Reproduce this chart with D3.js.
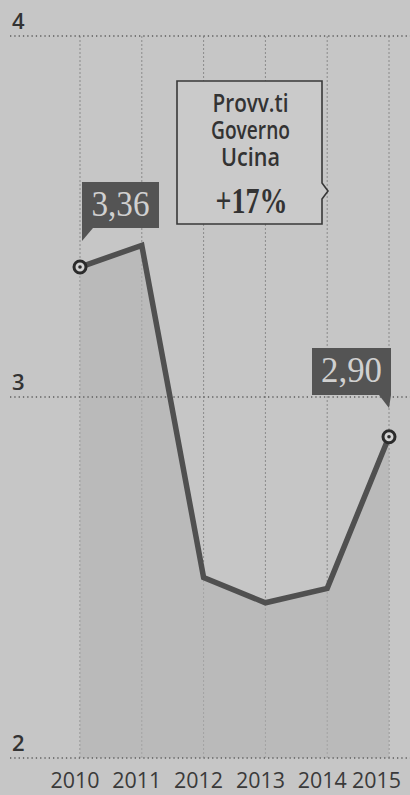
<!DOCTYPE html>
<html>
  <head>
    <meta charset="utf-8">
    <title>Provv.ti Governo Ucina</title>
    <script src="https://d3js.org/d3.v7.min.js"></script>
    <style>
      body { margin: 0; background: #c6c6c6; }
      svg { display: block; }
      .grid line { stroke: #5e5e5e; stroke-width: 1.3; stroke-dasharray: 1.3 3; }
      .vgrid line { stroke: #8a8a8a; stroke-width: 1; stroke-dasharray: 2 2; }
      .area { fill: #b3b3b3; opacity: 0.6; }
      .line { fill: none; stroke: #505050; stroke-width: 5.5; stroke-linejoin: miter; }
      .xlab { font-family: "Open Sans", "DejaVu Sans", sans-serif; font-size: 22px; fill: #3a3a3a; }
      .ylab { font-family: "Open Sans", sans-serif; font-weight: 600; font-size: 22px; fill: #333; }
    </style>
  </head>
  <body>
    <script>
      var years = [2010, 2011, 2012, 2013, 2014, 2015];
      var values = [3.36, 3.42, 2.50, 2.43, 2.47, 2.89];
      var yTicks = [2, 3, 4];
      var callouts = [{ year: 2010, text: '3,36' }, { year: 2015, text: '2,90' }];
      var noteLines = ['Provv.ti', 'Governo', 'Ucina'];
      var noteValue = '+17%';

      var W = 410, H = 795;
      var svg = d3.select('body').append('svg').attr('width', W).attr('height', H);

      svg.append('rect').attr('width', W).attr('height', H).attr('fill', '#c6c6c6');

      var x = d3.scalePoint().domain(years).range([80, 389]);
      var y = d3.scaleLinear().domain([2, 4]).range([758, 36]);

      // vertical dotted grid
      svg.append('g').attr('class', 'vgrid').selectAll('line').data(years).enter().append('line')
        .attr('x1', function(d){ return x(d) }).attr('x2', function(d){ return x(d) })
        .attr('y1', y(4)).attr('y2', y(2));

      // area under the line
      var area = d3.area()
        .x(function(d, i){ return x(years[i]) })
        .y0(y(2))
        .y1(function(d){ return y(d) });
      svg.append('path').datum(values).attr('class', 'area').attr('d', area);

      // horizontal dotted grid
      svg.append('g').attr('class', 'grid').selectAll('line').data(yTicks).enter().append('line')
        .attr('x1', 10).attr('x2', W)
        .attr('y1', function(d){ return y(d) }).attr('y2', function(d){ return y(d) });

      svg.selectAll('.ylab').data(yTicks).enter().append('text')
        .attr('class', 'ylab')
        .attr('x', 12).attr('y', function(d){ return y(d) - 7 })
        .text(function(d){ return d });

      svg.selectAll('.xlab').data(years).enter().append('text')
        .attr('class', 'xlab')
        .attr('x', function(d, i){ return i === years.length - 1 ? 401 : x(d) - 5 })
        .attr('y', 788)
        .attr('text-anchor', function(d, i){ return i === years.length - 1 ? 'end' : 'middle' })
        .attr('textLength', 49).attr('lengthAdjust', 'spacingAndGlyphs')
        .text(function(d){ return d });

      var line = d3.line()
        .x(function(d, i){ return x(years[i]) })
        .y(function(d){ return y(d) });
      svg.append('path').datum(values).attr('class', 'line').attr('d', line);

      // markers at first and last point
      var ends = [0, values.length - 1];
      ends.forEach(function(i){
        var cx = x(years[i]), cy = y(values[i]);
        svg.append('circle').attr('cx', cx).attr('cy', cy).attr('r', 6)
          .attr('fill', '#d2d2d2').attr('stroke', '#2b2b2b').attr('stroke-width', 3);
        svg.append('circle').attr('cx', cx).attr('cy', cy).attr('r', 1.8).attr('fill', '#2b2b2b');
      });

      // value callouts
      callouts.forEach(function(c, k){
        var px = x(c.year);
        var bw = k === 0 ? 77 : 79, bh = k === 0 ? 46 : 47;
        var bx = k === 0 ? px + 2 : px + 2 - bw;
        var by = k === 0 ? 182 : 348;
        var tail = k === 0
          ? [[bx, by + bh], [bx + 11, by + bh], [bx, by + bh + 13]]
          : [[bx + bw, by + bh], [bx + bw - 12, by + bh], [bx + bw - 2, by + bh + 13]];
        svg.append('rect').attr('x', bx).attr('y', by).attr('width', bw).attr('height', bh).attr('fill', '#545454');
        svg.append('path').attr('d', d3.line()(tail) + 'Z').attr('fill', '#545454');
        svg.append('text')
          .attr('x', bx + bw / 2).attr('y', by + 34)
          .attr('text-anchor', 'middle')
          .attr('font-family', 'Liberation Serif, serif').attr('font-size', 35)
          .attr('fill', '#d0d0d0')
          .attr('textLength', k === 0 ? 58 : 61).attr('lengthAdjust', 'spacingAndGlyphs')
          .text(c.text);
      });

      // note box
      var nx = 177, ny = 81, nw = 145, nh = 143;
      svg.append('path')
        .attr('d', 'M' + nx + ',' + ny + 'H' + (nx + nw) + 'V' + (ny + 102) + 'l6,8l-6,8V' + (ny + nh) + 'H' + nx + 'Z')
        .attr('fill', '#cacaca').attr('stroke', '#383838').attr('stroke-width', 1.6);
      var noteWidths = [76, 79, 59];
      svg.selectAll('.note').data(noteLines).enter().append('text')
        .attr('class', 'note')
        .attr('x', nx + nw / 2 + 1).attr('y', function(d, i){ return ny + 31 + i * 27 })
        .attr('text-anchor', 'middle')
        .attr('font-family', 'Open Sans, sans-serif').attr('font-weight', 600)
        .attr('font-size', 25).attr('fill', '#333')
        .attr('textLength', function(d, i){ return noteWidths[i] }).attr('lengthAdjust', 'spacingAndGlyphs')
        .text(function(d){ return d });
      svg.append('text')
        .attr('x', nx + nw / 2 + 2).attr('y', ny + 132)
        .attr('text-anchor', 'middle')
        .attr('font-family', 'Liberation Serif, serif').attr('font-weight', 'bold')
        .attr('font-size', 36).attr('fill', '#333')
        .attr('textLength', 72).attr('lengthAdjust', 'spacingAndGlyphs')
        .text(noteValue);
    </script>
  </body>
</html>
